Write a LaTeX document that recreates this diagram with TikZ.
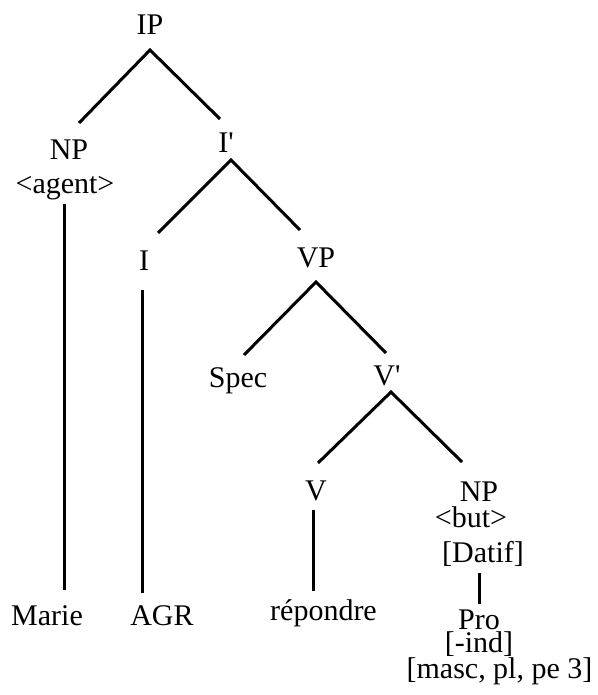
\documentclass[tikz,border=0pt]{standalone}
\usepackage{fontspec}
\setmainfont{Liberation Serif}
\usepackage{tikz}
\usetikzlibrary{positioning}
\definecolor{ink}{HTML}{000000}
\tikzset{
  cat/.style={anchor=base,inner sep=0pt,text=ink,align=center,
              font=\fontsize{30}{30}\selectfont},
  branch/.style={draw=ink,line width=3pt}
}

\begin{document}
\begin{tikzpicture}[x=1pt,y=-1pt]
      \useasboundingbox (0,0) rectangle (597,695);
      % categories
      \node[cat] (ip) at (150,35) {IP};
      \node[cat] (np1) at (69,160) {NP};
      \node[cat] (agent) at (65,193) {<agent>};
      \node[cat] (ibar) at (226,153) {I\textquotesingle};
      \node[cat] (infl) at (144,270) {I};
      \node[cat] (vp) at (316,267) {VP};
      \node[cat] (spec) at (238,387) {Spec};
      \node[cat] (vbar) at (387,385) {V\textquotesingle};
      \node[cat] (verb) at (316,500) {V};
      % base of a two- or three-line node = its last line
      \node[cat,font=\fontsize{30}{26}\selectfont] (np2) at (471,527) {\hspace*{16pt}NP\\<but>};
      \node[cat] (datif) at (483,562) {[Datif]};
      % words
      \node[cat] (marie) at (47,625) {Marie};
      \node[cat] (agr) at (162,625) {AGR};
      \node[cat] (rep) at (323.5,620) {répondre};
      \node[cat,font=\fontsize{30}{22.5}\selectfont] (pro) at (479,678)
        {Pro\\{[}-ind{]}\\\hspace*{41pt}[masc, pl, pe 3]};
      % branches
      \draw[branch] ([xshift=10pt,yshift=37pt]np1.base) -- ([yshift=-15pt]ip.base)
                    -- ([xshift=-6pt,yshift=34pt]ibar.base);
      \draw[branch] ([xshift=14pt,yshift=37pt]infl.base) -- ([xshift=5pt,yshift=-7pt]ibar.base)
                    -- ([xshift=-16pt,yshift=37pt]vp.base);
      \draw[branch] ([xshift=6pt,yshift=32pt]spec.base) -- ([yshift=-15pt]vp.base)
                    -- ([xshift=-1pt,yshift=32pt]vbar.base);
      \draw[branch] ([xshift=2pt,yshift=37pt]verb.base) -- ([xshift=4pt,yshift=-7pt]vbar.base)
                    -- ([xshift=-9pt,yshift=65pt]np2.base);
      \draw[branch] ([xshift=-0.5pt,yshift=-11pt]agent.base) -- ([xshift=17.5pt,yshift=35pt]marie.base);
      \draw[branch] ([xshift=-2pt,yshift=-20pt]infl.base) -- ([xshift=-20pt,yshift=32pt]agr.base);
      \draw[branch] ([xshift=-3pt,yshift=-10pt]verb.base) -- ([xshift=-10.5pt,yshift=29pt]rep.base);
      \draw[branch] ([xshift=-4pt,yshift=-11pt]datif.base) -- ([yshift=74pt]pro.base);
\end{tikzpicture}
\end{document}
